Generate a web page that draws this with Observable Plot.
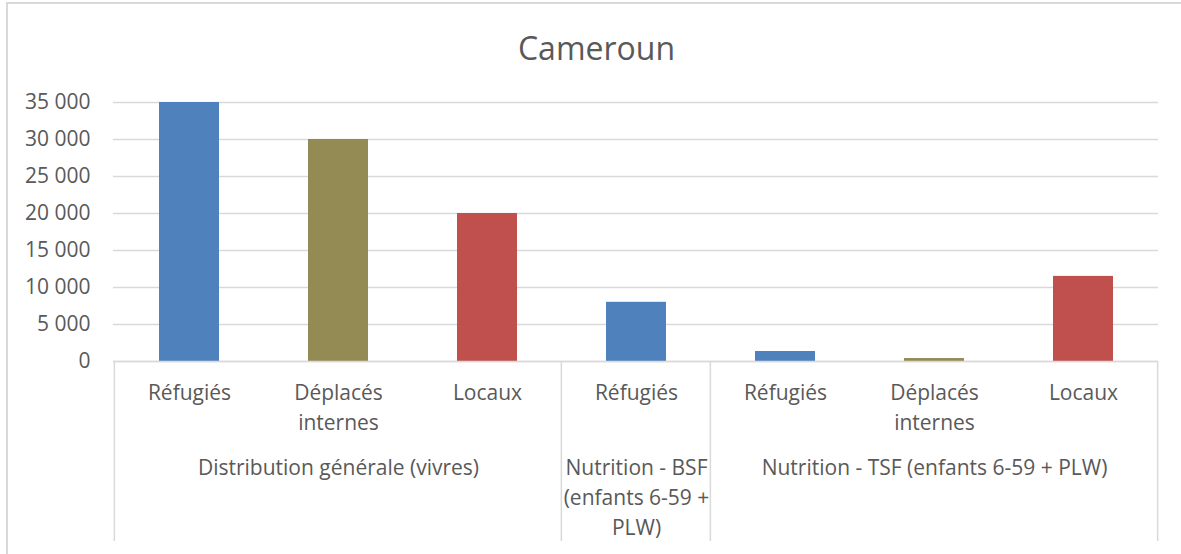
<!DOCTYPE html>
<html><head><meta charset="utf-8">
<script src="https://cdn.jsdelivr.net/npm/d3@7"></script>
<script src="https://cdn.jsdelivr.net/npm/@observablehq/plot@0.6"></script>
<style>
body{margin:0;background:#fff;font-family:"Open Sans",sans-serif;}
#wrap{position:relative;width:1181px;height:554px;overflow:hidden;}
#border{position:absolute;left:6px;top:2px;right:-10px;bottom:-10px;border-left:2px solid #d9d9d9;border-top:2px solid #d9d9d9;pointer-events:none}
#title{height:50px;padding-top:28px;padding-left:12px;line-height:40px;font-size:32px;color:#595959;text-align:center;}
svg{display:block}
</style></head>
<body>
<div id="wrap"><div id="border"></div><div id="title">Cameroun</div><div id="chart"></div></div>
<script>
const titleText = "Cameroun";
const series = ["Réfugiés","Déplacés internes","Locaux","Réfugiés","Réfugiés","Déplacés internes","Locaux"];
const catLabels = ["Réfugiés","Déplacés\ninternes","Locaux","Réfugiés","Réfugiés","Déplacés\ninternes","Locaux"];
const values = [35000, 30000, 20000, 8000, 1350, 400, 11500];
const groupLabels = ["Distribution générale (vivres)", "Nutrition - BSF\n(enfants 6-59 +\nPLW)", "Nutrition - TSF (enfants 6-59 + PLW)"];
const groupSpans = [3, 1, 3];
const yTicks = [0, 5000, 10000, 15000, 20000, 25000, 30000, 35000];
const seriesNames = ["Réfugiés","Déplacés internes","Locaux"];
const seriesColors = ["#4F81BD","#948A54","#C0504D"];

document.getElementById("title").textContent = titleText;

const data = values.map((v, i) => ({key: String(i), value: v, series: series[i], label: catLabels[i]}));
const keys = data.map(d => d.key);
let start = 0;
const groups = groupLabels.map((g, j) => {
  const s = start; start += groupSpans[j];
  return {label: g, start: s, span: groupSpans[j], center: String(s + (groupSpans[j] - 1) / 2)};
});
const fmt = d => d3.format(",")(d).replace(/,/g, " ");

function separators(index, scales, values, dims) {
  const x = scales.x;
  const n = keys.length;
  const step = (dims.width - dims.marginLeft - dims.marginRight) / (n);
  const bw = x.bandwidth ? x.bandwidth() : step * 0.4;
  const y0 = dims.height - dims.marginBottom;
  const g = d3.create("svg:g");
  const xs = groups.map(gr => x(keys[gr.start]) - (step - bw) / 2);
  xs.push(x(keys[n - 1]) + bw + (step - bw) / 2);
  for (const xv of xs) {
    g.append("line").attr("x1", xv).attr("x2", xv).attr("y1", y0).attr("y2", y0 + 180)
      .attr("stroke", "#d9d9d9").attr("stroke-width", 1.5);
  }
  return g.node();
}

const FS = 21;
const chart = Plot.plot({
  width: 1181, height: 476,
  marginTop: 24, marginBottom: 193, marginLeft: 113, marginRight: 23,
  style: {fontFamily: '"Open Sans", sans-serif', fontSize: FS + "px", color: "#595959", background: "transparent"},
  x: {domain: keys, paddingInner: 0.6, paddingOuter: 0.3, axis: null},
  y: {domain: [0, 35000], ticks: yTicks, tickFormat: fmt, label: null},
  color: {domain: seriesNames, range: seriesColors},
  marks: [
    Plot.gridY(yTicks, {stroke: "#d9d9d9", strokeOpacity: 1, strokeWidth: 1.5}),
    Plot.axisY(yTicks, {tickSize: 0, tickPadding: 23, tickFormat: fmt, label: null, fontSize: FS}),
    Plot.barY(data, {x: "key", y: "value", fill: "series"}),
    Plot.ruleY([0], {stroke: "#d9d9d9", strokeWidth: 1.5}),
    separators,
    Plot.text(data, {x: "key", text: "label", frameAnchor: "bottom", lineAnchor: "top", dy: 17, lineHeight: 30/FS, fontSize: FS}),
    Plot.text(groups, {x: "center", text: "label", frameAnchor: "bottom", lineAnchor: "top", dy: 92, lineHeight: 30/FS, fontSize: FS})
  ]
});
document.getElementById("chart").appendChild(chart);
</script>
</body></html>
